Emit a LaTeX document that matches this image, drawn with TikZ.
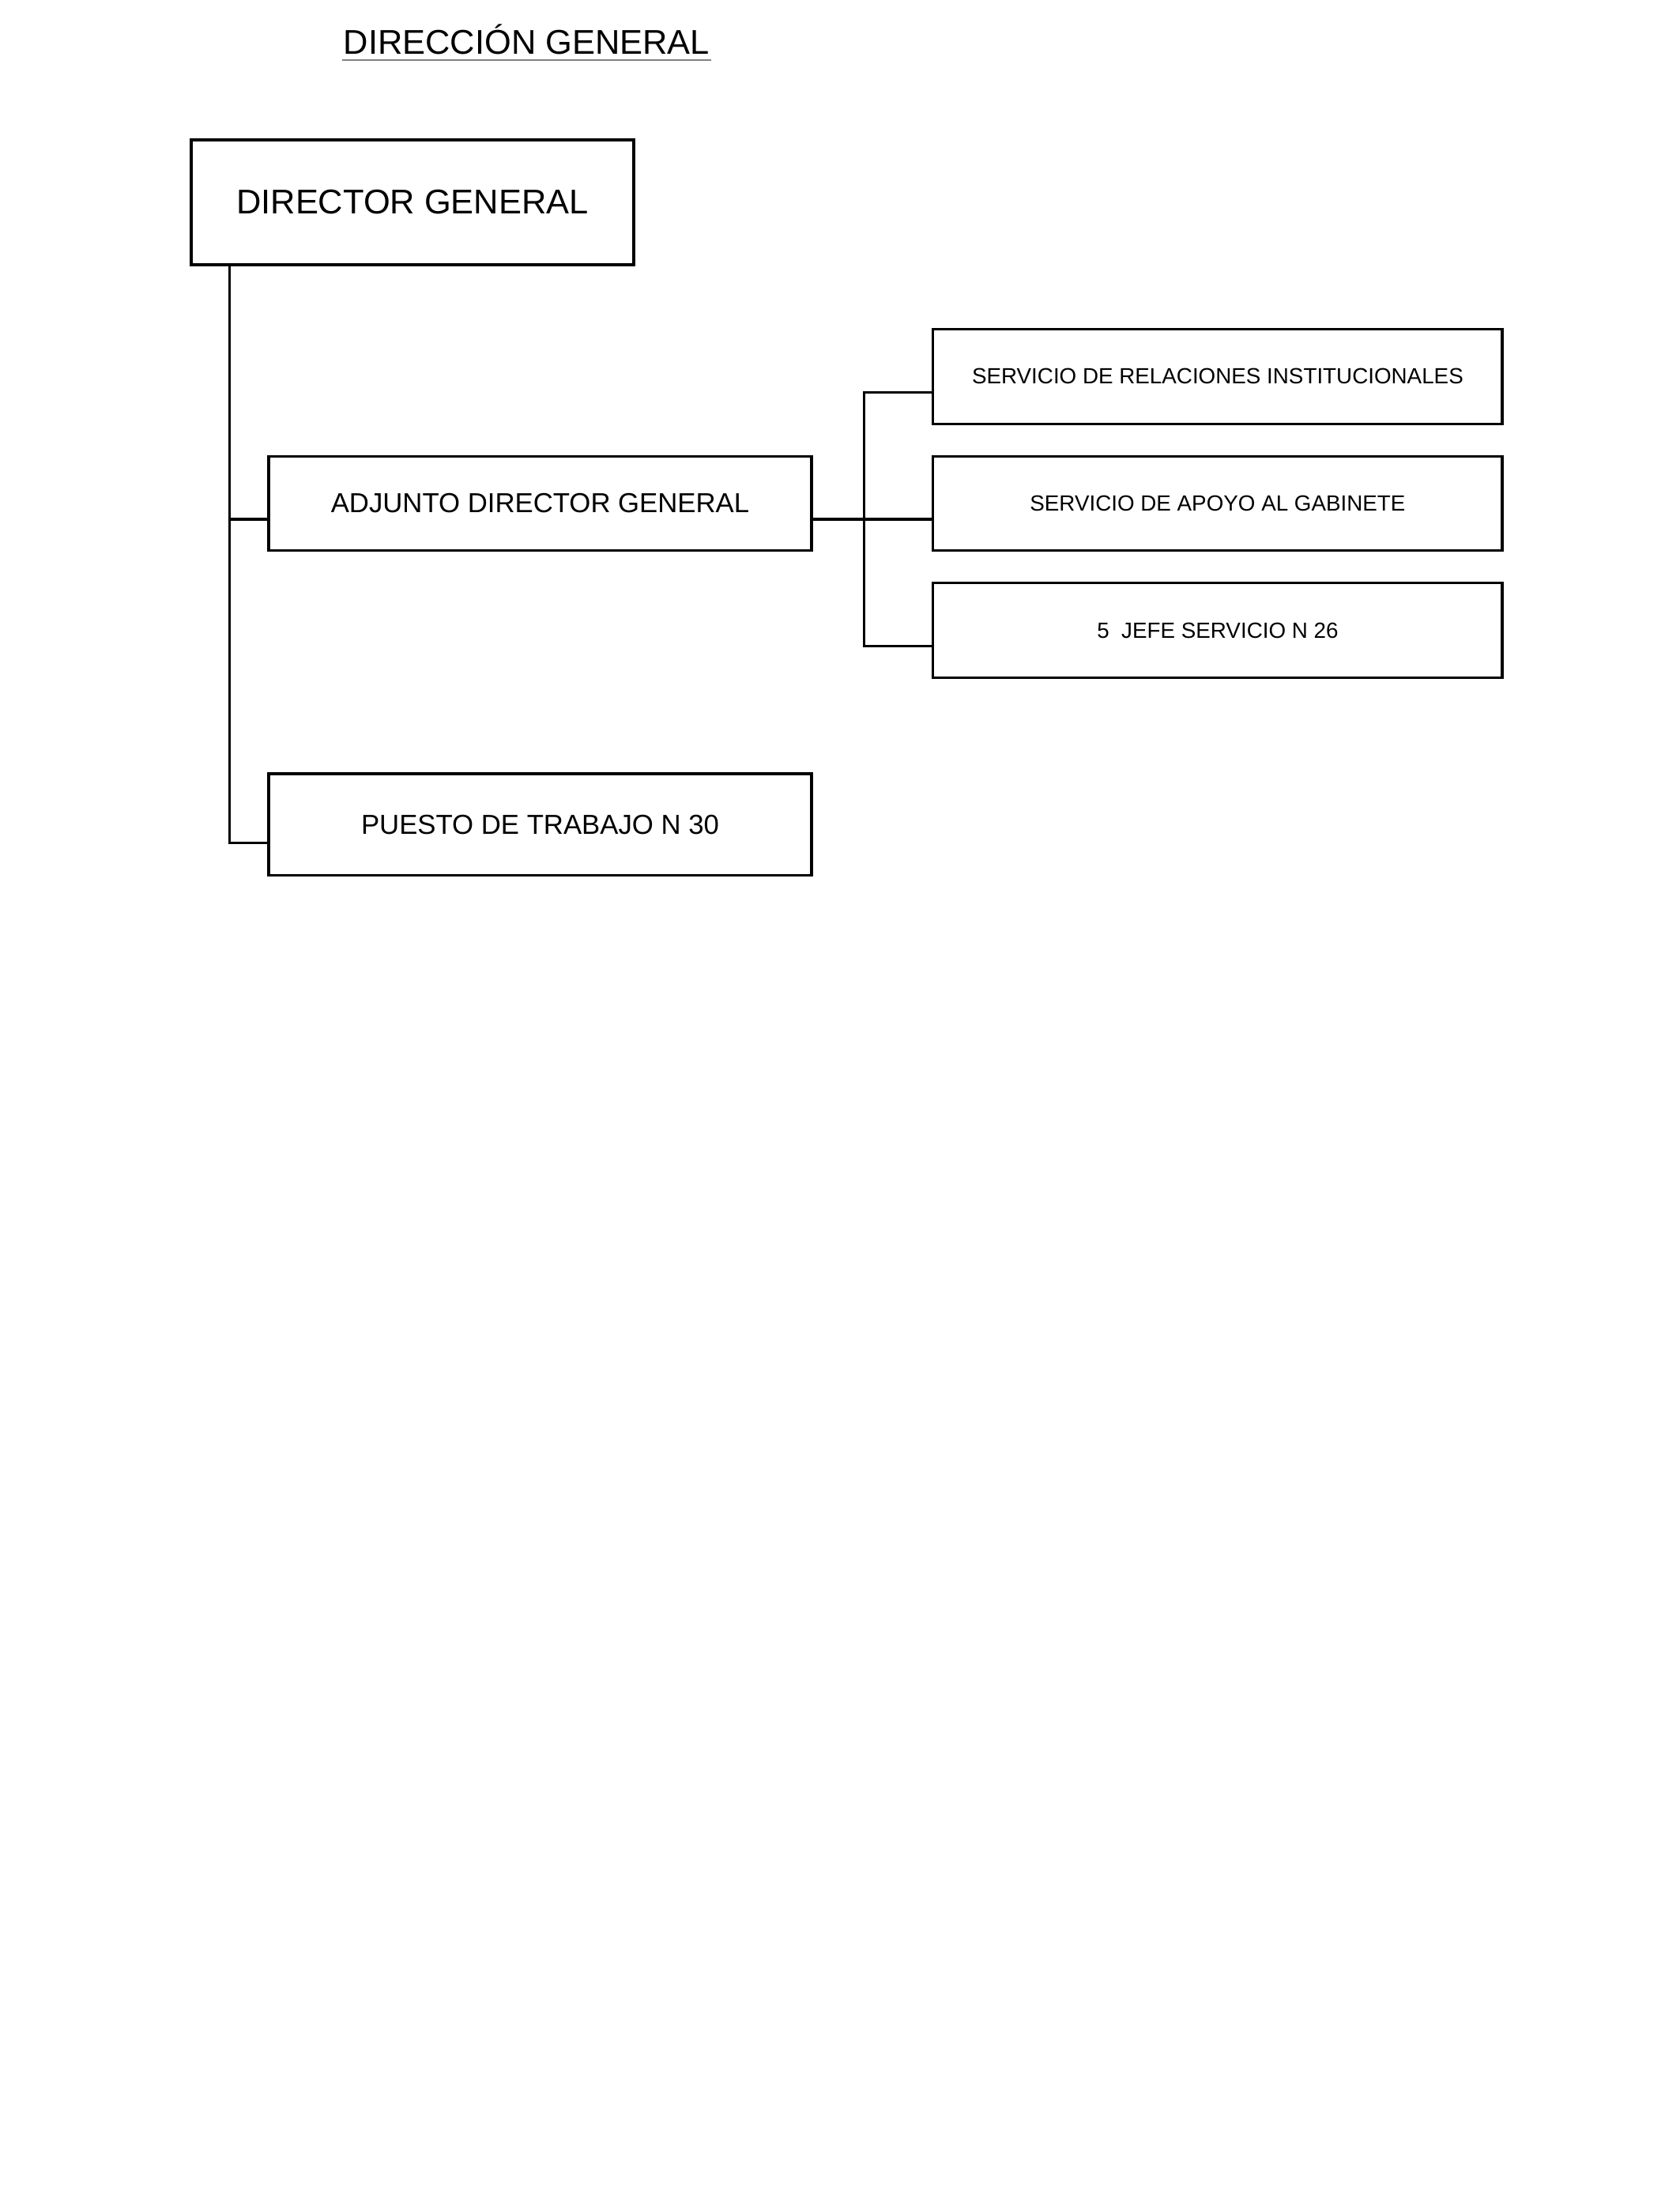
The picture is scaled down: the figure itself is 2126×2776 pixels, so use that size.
\documentclass[tikz,border=0pt]{standalone}
\usepackage{fontspec}
\setmainfont{Liberation Sans}
\usetikzlibrary{positioning,calc}
\definecolor{ulgray}{RGB}{128,128,128}

\begin{document}
\begin{tikzpicture}[x=0.2879pt, y=-0.2879pt, line width=0.9pt]
\tikzstyle{box}=[draw=black, fill=white, inner sep=0pt, align=center]
\tikzstyle{bigbox}=[box, minimum width=161.2pt, minimum height=45.5pt, font=\fontsize{12.5}{15}\selectfont]
\tikzstyle{midbox}=[box, minimum width=197.8pt, minimum height=34.5pt, font=\fontsize{10}{12}\selectfont]
\tikzstyle{srvbox}=[box, minimum width=207.3pt, minimum height=34.5pt, font=\fontsize{8}{10}\selectfont]
\tikzstyle{link}=[draw=black]

\useasboundingbox (0,0) rectangle (2126,2776);

% title
\node[inner sep=0pt, anchor=base, font=\fontsize{12.5}{15}\selectfont] (title) at (666.5,69) {DIRECCIÓN GENERAL};
\draw[ulgray, line width=0.5pt] ($(title.base west)+(0,7)$) -- ($(title.base east)+(0,7)$);

% boxes
\node[bigbox] (dg) at (522,256) {DIRECTOR GENERAL};
\node[midbox] (adj) at (683.5,637) {ADJUNTO DIRECTOR GENERAL};
\node[midbox, minimum height=37.1pt] (pt) [below=80.3pt of adj] {PUESTO DE TRABAJO N 30};
\node[srvbox] (sag) [right=43.4pt of adj] {SERVICIO DE APOYO AL GABINETE};
\node[srvbox] (sri) [above=10.9pt of sag] {SERVICIO DE RELACIONES INSTITUCIONALES};
\node[srvbox] (jefe) [below=10.9pt of sag] {5\ \ JEFE SERVICIO N 26};

% connectors
\coordinate (trunk) at ($(dg.south west)+(50,0)$);
\coordinate (a1) at ($(adj.west)+(0,20)$);
\coordinate (a2) at ($(adj.east)+(0,20)$);
\coordinate (p1) at ($(pt.west)+(0,23.5)$);
\coordinate (bus) at ($(adj.east)+(65,0)$);
\coordinate (s1) at ($(sri.west)+(0,20)$);
\coordinate (s2) at ($(sag.west)+(0,20)$);
\coordinate (s3) at ($(jefe.west)+(0,20)$);

\draw[link] (trunk) |- (p1);
\draw[link] (trunk |- a1) -- (a1);
\draw[link] (a2) -- (s2);
\draw[link] (s1) -- (s1 -| bus) -- (s3 -| bus) -- (s3);
\end{tikzpicture}
\end{document}
